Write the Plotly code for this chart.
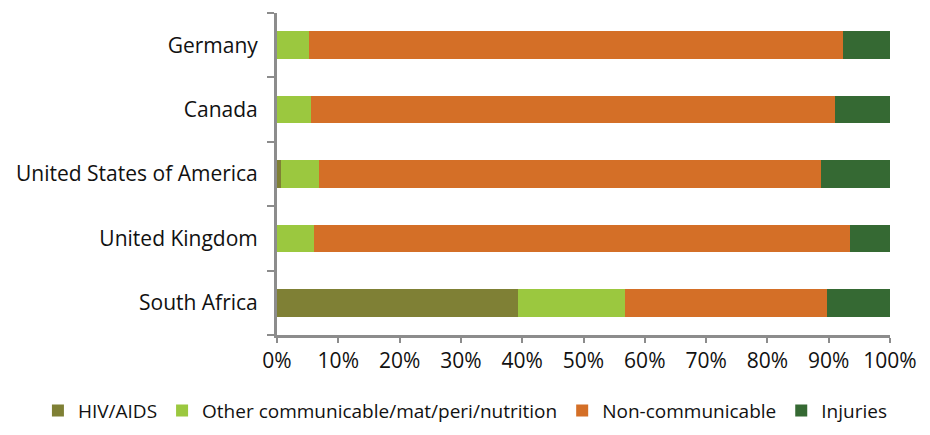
import plotly.graph_objects as go

countries = ['South Africa', 'United Kingdom', 'United States of America', 'Canada', 'Germany']
hiv_aids = [39.3, 0.0, 0.7, 0.0, 0.0]
other_comm = [17.5, 6.1, 6.2, 5.6, 5.3]
non_comm = [33.0, 87.3, 81.8, 85.4, 87.0]
injuries = [10.2, 6.6, 11.3, 9.0, 7.7]

series = [
    ('HIV/AIDS', hiv_aids, '#7f8035'),
    ('Other communicable/mat/peri/nutrition', other_comm, '#9bc83f'),
    ('Non-communicable', non_comm, '#d46f27'),
    ('Injuries', injuries, '#356933'),
]

fig = go.Figure()
for name, vals, color in series:
    fig.add_trace(go.Bar(
        name=name,
        y=countries,
        x=vals,
        orientation='h',
        marker=dict(color=color, line=dict(width=0)),
    ))

# page body has an 8px margin, so the figure is 8px smaller and offsets shifted
fig.update_layout(
    barmode='stack',
    bargap=0.57,
    width=922,
    height=427,
    margin=dict(l=269, r=40, t=5, b=98),
    plot_bgcolor='white',
    paper_bgcolor='white',
    font=dict(family='Open Sans, sans-serif', size=21, color='#111111'),
    legend=dict(
        orientation='h',
        x=-0.39, xanchor='left',
        y=-0.235, yanchor='middle',
        font=dict(size=19),
        itemwidth=30,
        traceorder='normal',
    ),
    xaxis=dict(
        range=[0, 100],
        tickvals=[0, 10, 20, 30, 40, 50, 60, 70, 80, 90, 100],
        ticktext=['0%', '10%', '20%', '30%', '40%', '50%', '60%', '70%', '80%', '90%', '100%'],
        showgrid=False,
        zeroline=False,
        showline=True,
        linecolor='#8c8c8c',
        linewidth=3,
        ticks='outside',
        ticklen=5,
        tickwidth=2,
        tickcolor='#8c8c8c',
        tickfont=dict(size=21),
    ),
    yaxis=dict(
        showgrid=False,
        showline=True,
        linecolor='#8c8c8c',
        linewidth=3,
        ticks='outside',
        tickson='boundaries',
        ticklen=7,
        tickwidth=2,
        tickcolor='#8c8c8c',
        tickfont=dict(size=21),
        ticklabelstandoff=12,
    ),
)

fig.write_html('out.html')
